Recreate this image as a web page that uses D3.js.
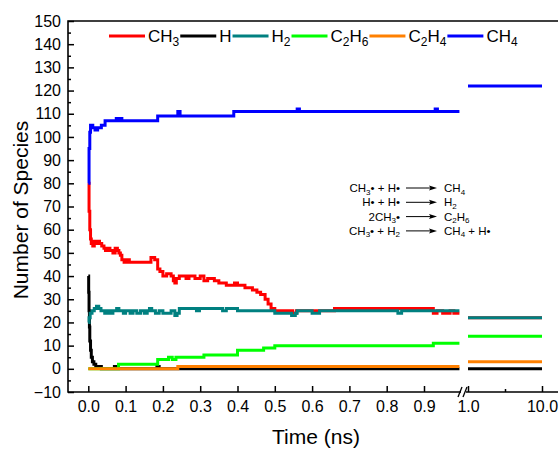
<!DOCTYPE html>
<html>
<head>
<meta charset="utf-8">
<script src="https://cdn.jsdelivr.net/npm/d3@7"></script>
<style>
body { margin: 0; background: #fff; }
text { font-family: "Liberation Sans", Arial, sans-serif; fill: #000; }
</style>
</head>
<body>
<script>
// species counts vs time, [time (ns), count]
var ch3 = [[0,80],[0.002,68],[0.004,60],[0.006,56],[0.008,54],[0.012,53],[0.016,55],[0.02,54],[0.026,55],
  [0.03,54],[0.036,53],[0.042,52],[0.046,51],[0.054,52],[0.058,51],[0.066,50],[0.072,52],[0.078,51],
  [0.082,50],[0.086,49],[0.09,47],[0.096,46],[0.104,47],[0.11,46],[0.168,48],[0.178,47],[0.186,43],
  [0.192,42],[0.2,40],[0.21,41],[0.222,40],[0.228,38],[0.232,37],[0.236,39],[0.244,40],[0.262,39],
  [0.27,40],[0.286,39],[0.3,40],[0.31,38],[0.32,39],[0.338,38],[0.35,37],[0.37,36],[0.392,37],
  [0.4,36],[0.42,35],[0.44,34],[0.452,33],[0.462,32],[0.474,30],[0.482,28],[0.49,26],[0.5,25],
  [0.548,24],[0.558,25],[0.66,26],[0.925,24],[0.935,25],[0.95,24],[0.97,25],[0.98,24]];
var h = [[0,40],[0.001,33],[0.002,25],[0.003,18],[0.004,12],[0.006,8],[0.008,5],[0.011,3],[0.015,2],
  [0.02,1],[0.035,0],[0.07,1],[0.075,0],[0.184,1],[0.19,0]];
var h2 = [[0,20],[0.002,22],[0.005,24],[0.01,25],[0.016,26],[0.022,27],[0.028,26],[0.034,25],[0.044,24],
  [0.05,25],[0.058,24],[0.066,25],[0.076,26],[0.082,25],[0.094,24],[0.1,25],[0.112,24],[0.12,25],
  [0.13,24],[0.14,25],[0.15,24],[0.158,25],[0.164,26],[0.17,25],[0.18,24],[0.19,25],[0.2,24],
  [0.222,25],[0.232,23],[0.238,24],[0.244,26],[0.29,25],[0.298,26],[0.36,25],[0.37,26],[0.4,25],
  [0.5,24],[0.545,23],[0.555,24],[0.56,25],[0.6,24],[0.62,25],[0.8,25],[0.83,24],[0.84,25]];
var c2h6 = [[0,0],[0.081,2],[0.186,4],[0.215,5],[0.225,4],[0.235,5],[0.31,6],[0.4,8],[0.47,9],
  [0.5,10],[0.925,11]];
var c2h4 = [[0,0],[0.24,1]];
var ch4 = [[0,80],[0.002,95],[0.004,102],[0.006,105],[0.012,104],[0.018,103],[0.025,104],[0.035,105],
  [0.045,107],[0.075,108],[0.08,107],[0.085,108],[0.09,107],[0.186,109],[0.24,111],[0.246,109],
  [0.39,111],[0.56,112],[0.566,111],[0.93,112],[0.936,111]];

// counts over the 1.0 - 10.0 ns segment
var endTimes = [1, 10];
var endCounts = [22, 0, 22, 14, 3, 122];

var names = ["CH_3", "H", "H_2", "C_2H_6", "C_2H_4", "CH_4"];
var colors = ["#ff0000", "#000000", "#008080", "#00ff00", "#ff8000", "#0000ff"];
var series = [ch3, h, h2, c2h6, c2h4, ch4];

var leftTicks = [0, 0.1, 0.2, 0.3, 0.4, 0.5, 0.6, 0.7, 0.8, 0.9];
var rightTicks = [1, 10];

var reactLeft = ["CH_3• + H•", "H• + H•", "2CH_3•", "CH_3• + H_2"];
var reactRight = ["CH_4", "H_2", "C_2H_6", "CH_4 + H•"];

var W = 560, H = 464;
var padL = 68, padT = 21, padB = 392, padR = 558;
var tEnd = 0.995; // left segment stops just before the break

var svg = d3.select("body").append("svg")
    .attr("width", W)
    .attr("height", H);

var y = d3.scaleLinear().domain([-10, 150]).range([padB, padT]);
var x1 = d3.scaleLinear().domain([0, 1]).range([88.3, 461.3]);
var x2 = d3.scaleLinear().domain([1, 10]).range([468, 542]);

// writes "C_2H_6" style strings with subscripts
function chem(sel, str, subSize, shift) {
  var parts = str.split(/(_\d)/);
  var down = false;
  parts.forEach(function (p) {
    if (!p) return;
    if (p[0] == "_") {
      sel.append("tspan").attr("dy", shift).style("font-size", subSize + "px").text(p.slice(1));
      down = true;
    } else {
      var t = sel.append("tspan").text(p);
      if (down) { t.attr("dy", -shift); down = false; }
    }
  });
}

//Y AXIS
svg.append("g")
    .attr("transform", "translate(" + padL + ",0)")
    .call(d3.axisLeft(y).tickValues(d3.range(-10, 151, 10)).tickSize(-6).tickPadding(7));
svg.append("g")
    .attr("transform", "translate(" + padL + ",0)")
    .call(d3.axisLeft(y).tickValues(d3.range(-5, 150, 10)).tickSize(-3).tickFormat(""));

//X AXIS
svg.append("g")
    .attr("transform", "translate(0," + padB + ")")
    .call(d3.axisBottom(x1).tickValues(leftTicks).tickSize(-6).tickPadding(9).tickFormat(d3.format(".1f")));
svg.append("g")
    .attr("transform", "translate(0," + padB + ")")
    .call(d3.axisBottom(x2).tickValues(rightTicks).tickSize(-6).tickPadding(9).tickFormat(d3.format(".1f")));
svg.append("g")
    .attr("transform", "translate(0," + padB + ")")
    .call(d3.axisBottom(x2).tickValues([5.5]).tickSize(-3).tickFormat(""));

svg.selectAll(".domain").remove();
svg.selectAll(".tick line").attr("stroke", "#000").attr("stroke-width", 1.5);
svg.selectAll(".tick text").style("font-size", "16px").style("font-family", "'Liberation Sans', Arial, sans-serif");

// frame lines
svg.append("path")
    .attr("d", "M" + padR + "," + padT + "H" + padL + "V" + padB + "H" + padR)
    .attr("fill", "none")
    .attr("stroke", "#000")
    .attr("stroke-width", 1.6);

// axis break
svg.append("rect").attr("x", 461).attr("y", padB - 3).attr("width", 5).attr("height", 6).attr("fill", "#fff");
[460, 465].forEach(function (bx) {
  svg.append("line")
      .attr("x1", bx - 2).attr("y1", padB + 5)
      .attr("x2", bx + 2).attr("y2", padB - 5)
      .attr("stroke", "#000").attr("stroke-width", 1.3);
});

//LINES
var line1 = d3.line()
    .x(function (d) { return x1(d[0]); })
    .y(function (d) { return y(d[1]); })
    .curve(d3.curveStepAfter);
var line2 = d3.line()
    .x(function (d) { return x2(d[0]); })
    .y(function (d) { return y(d[1]); });

series.forEach(function (s, i) {
  var pts = s.concat([[tEnd, s[s.length - 1][1]]]);
  svg.append("path")
      .attr("d", line1(pts))
      .attr("fill", "none")
      .attr("stroke", colors[i])
      .attr("stroke-width", 3);
  svg.append("path")
      .attr("d", line2(endTimes.map(function (t) { return [t, endCounts[i]]; })))
      .attr("fill", "none")
      .attr("stroke", colors[i])
      .attr("stroke-width", 3);
});

//LEGEND
var lx = 109, ly = 36;
names.forEach(function (n, i) {
  svg.append("line")
      .attr("x1", lx).attr("x2", lx + 36)
      .attr("y1", ly).attr("y2", ly)
      .attr("stroke", colors[i])
      .attr("stroke-width", 3);
  var t = svg.append("text")
      .attr("x", lx + 39)
      .attr("y", ly + 6)
      .style("font-size", "17px");
  chem(t, n, 12, 4);
  lx = lx + 39 + t.node().getComputedTextLength() + 1;
});

//REACTIONS
reactLeft.forEach(function (r, i) {
  var ry = 192 + i * 14.3;
  var t = svg.append("text")
      .attr("x", 400).attr("y", ry)
      .attr("text-anchor", "end")
      .style("font-size", "11.5px");
  chem(t, r, 8, 2.5);
  svg.append("line")
      .attr("x1", 406).attr("x2", 432)
      .attr("y1", ry - 4).attr("y2", ry - 4)
      .attr("stroke", "#000").attr("stroke-width", 1);
  svg.append("path")
      .attr("d", "M437," + (ry - 4) + "L429," + (ry - 6.5) + "L430.5," + (ry - 4) + "L429," + (ry - 1.5) + "Z")
      .attr("fill", "#000");
  var t2 = svg.append("text")
      .attr("x", 444).attr("y", ry)
      .style("font-size", "11.5px");
  chem(t2, reactRight[i], 8, 2.5);
});

//AXIS TITLES
svg.append("text")
    .attr("x", 316).attr("y", 444)
    .attr("text-anchor", "middle")
    .style("font-size", "21px")
    .text("Time (ns)");
svg.append("text")
    .attr("transform", "translate(28,210) rotate(-90)")
    .attr("text-anchor", "middle")
    .style("font-size", "21px")
    .text("Number of Species");
</script>
</body>
</html>
